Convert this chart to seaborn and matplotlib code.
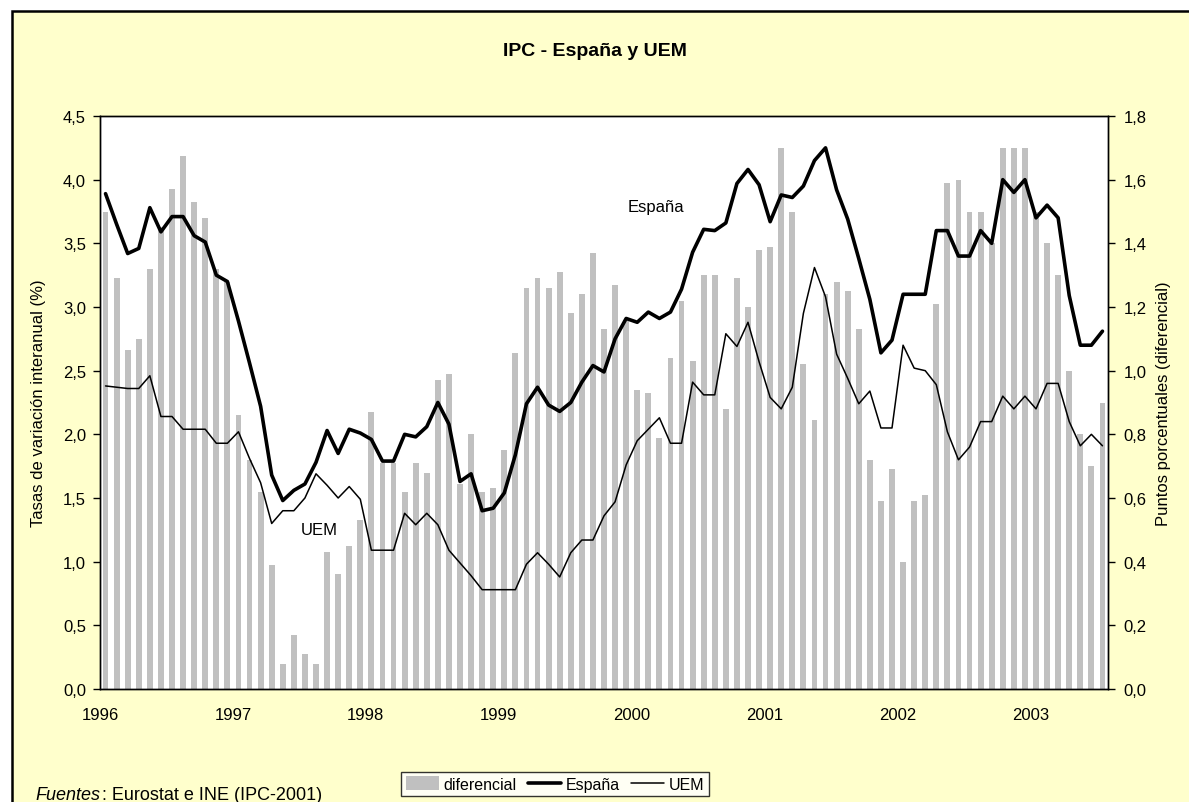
import numpy as np
import pandas as pd
import matplotlib
matplotlib.use('Agg')
import matplotlib.pyplot as plt
import seaborn as sns
from matplotlib.patches import Patch, Rectangle
from matplotlib.lines import Line2D
from matplotlib.ticker import FuncFormatter

# Datos mensuales ene-1996 .. jul-2003
years = ['1996', '1997', '1998', '1999', '2000', '2001', '2002', '2003']

espana = [3.89, 3.65, 3.42, 3.46, 3.78, 3.59, 3.71, 3.71, 3.56, 3.51, 3.25, 3.20,
          2.89, 2.56, 2.22, 1.68, 1.48, 1.56, 1.61, 1.78, 2.03, 1.85, 2.04, 2.01,
          1.96, 1.79, 1.79, 2.00, 1.98, 2.06, 2.25, 2.08, 1.63, 1.69, 1.40, 1.42,
          1.54, 1.84, 2.24, 2.37, 2.23, 2.18, 2.25, 2.41, 2.54, 2.49, 2.75, 2.91,
          2.88, 2.96, 2.91, 2.96, 3.14, 3.43, 3.61, 3.60, 3.66, 3.97, 4.08, 3.96,
          3.67, 3.88, 3.86, 3.95, 4.15, 4.25, 3.92, 3.69, 3.38, 3.06, 2.64, 2.74,
          3.10, 3.10, 3.10, 3.60, 3.60, 3.40, 3.40, 3.60, 3.50, 4.00, 3.90, 4.00,
          3.70, 3.80, 3.70, 3.09, 2.70, 2.70, 2.81]

uem = [2.38, 2.37, 2.36, 2.36, 2.46, 2.14, 2.14, 2.04, 2.04, 2.04, 1.93, 1.93,
       2.02, 1.81, 1.62, 1.30, 1.40, 1.40, 1.50, 1.69, 1.60, 1.50, 1.59, 1.49,
       1.09, 1.09, 1.09, 1.38, 1.29, 1.38, 1.29, 1.09, 0.99, 0.89, 0.78, 0.78,
       0.78, 0.78, 0.98, 1.07, 0.98, 0.88, 1.07, 1.17, 1.17, 1.36, 1.47, 1.76,
       1.95, 2.04, 2.13, 1.93, 1.93, 2.41, 2.31, 2.31, 2.79, 2.69, 2.88, 2.57,
       2.29, 2.20, 2.37, 2.95, 3.31, 3.08, 2.63, 2.44, 2.24, 2.34, 2.05, 2.05,
       2.70, 2.52, 2.50, 2.39, 2.02, 1.80, 1.90, 2.10, 2.10, 2.30, 2.20, 2.30,
       2.20, 2.40, 2.40, 2.10, 1.91, 2.00, 1.91]

diferencial = [1.50, 1.29, 1.065, 1.10, 1.32, 1.45, 1.57, 1.675, 1.53, 1.48, 1.32, 1.28,
               0.86, 0.72, 0.62, 0.39, 0.08, 0.17, 0.11, 0.08, 0.43, 0.36, 0.45, 0.53,
               0.87, 0.71, 0.71, 0.62, 0.71, 0.68, 0.97, 0.99, 0.645, 0.80, 0.62, 0.63,
               0.75, 1.055, 1.26, 1.29, 1.26, 1.31, 1.18, 1.24, 1.37, 1.13, 1.27, 1.16,
               0.94, 0.93, 0.79, 1.04, 1.22, 1.03, 1.30, 1.30, 0.88, 1.29, 1.20, 1.38,
               1.39, 1.70, 1.50, 1.02, 0.845, 1.24, 1.28, 1.25, 1.13, 0.72, 0.59, 0.69,
               0.40, 0.59, 0.61, 1.21, 1.59, 1.60, 1.50, 1.50, 1.40, 1.70, 1.70, 1.70,
               1.50, 1.40, 1.30, 1.00, 0.80, 0.70, 0.90]

df = pd.DataFrame({'mes': np.arange(len(espana)), 'España': espana,
                   'UEM': uem, 'diferencial': diferencial})

sns.set_style('white')
plt.rcParams['font.family'] = ['Liberation Sans', 'DejaVu Sans']
for k in ('text.color', 'axes.labelcolor', 'xtick.color', 'ytick.color'):
    plt.rcParams[k] = 'black'

W, H = 1189, 803
fig = plt.figure(figsize=(W / 100, H / 100), dpi=100)
fig.patch.set_facecolor('white')
# fondo amarillo del grafico con borde a la izquierda y arriba (recortado a la derecha/abajo)
fig.patches.append(Rectangle((12 / W, -0.05), 1.1, 1 - 12 / H + 0.05, transform=fig.transFigure,
                             facecolor='#FFFFCC', edgecolor='black', linewidth=1.8, zorder=-10))

# eje de barras (derecha) debajo, eje de lineas (izquierda) encima
ax_bar = fig.add_axes([100 / W, 1 - 690 / H, 1008 / W, 573 / H])
ax_bar.set_facecolor('white')
sns.barplot(data=df, x='mes', y='diferencial', ax=ax_bar, color='#C0C0C0',
            saturation=1, width=0.53, linewidth=0)
ax_line = ax_bar.twinx()
sns.lineplot(data=df, x='mes', y='España', ax=ax_line, color='black', linewidth=2.6)
sns.lineplot(data=df, x='mes', y='UEM', ax=ax_line, color='black', linewidth=1.1)

ax_bar.yaxis.tick_right()
ax_bar.yaxis.set_label_position('right')
ax_line.yaxis.tick_left()
ax_line.yaxis.set_label_position('left')

n = len(espana)
for a in (ax_bar, ax_line):
    a.set_xlim(-0.5, n - 0.5)
    for s in a.spines.values():
        s.set_color('black')
        s.set_linewidth(1.0)

ax_line.set_ylim(0, 4.5)
ax_line.set_yticks(np.arange(0, 4.51, 0.5))
ax_bar.set_ylim(0, 1.8)
ax_bar.set_yticks(np.arange(0, 1.81, 0.2))
comma = FuncFormatter(lambda v, _: f'{v:.1f}'.replace('.', ','))
ax_line.yaxis.set_major_formatter(comma)
ax_bar.yaxis.set_major_formatter(comma)

ax_bar.set_xticks([-0.5 + 12 * k for k in range(len(years))])
ax_bar.set_xticklabels(years, fontsize=12)
ax_line.set_xlabel('')
ax_bar.set_xlabel('')

ax_bar.tick_params(axis='x', direction='out', length=6, width=1, color='black', pad=7)
ax_bar.tick_params(axis='y', direction='out', length=5, width=1, color='black', pad=6,
                   labelsize=12, right=True, left=False, labelright=True, labelleft=False)
ax_line.tick_params(axis='y', direction='out', length=5, width=1, color='black', pad=5,
                    labelsize=12, left=True, right=False, labelleft=True, labelright=False)

ax_line.set_ylabel('Tasas de variación interanual (%)', fontsize=12)
ax_bar.set_ylabel('Puntos porcentuales (diferencial)', fontsize=12)
ax_line.yaxis.set_label_coords(-0.0535, 0.5)
ax_bar.yaxis.set_label_coords(1.0476, 0.5)

ax_line.text(49.7, 3.79, 'España', fontsize=12, ha='center', va='center')
ax_line.text(19.3, 1.25, 'UEM', fontsize=12, ha='center', va='center')

fig.text(0.5, 1 - 52 / H, 'IPC - España y UEM', fontsize=14, fontweight='bold',
         ha='center', va='center')

# nota de fuentes: "Fuentes" en cursiva seguido del resto
t1 = fig.text(35 / W, 1 - 800 / H, 'Fuentes', fontsize=13, style='italic',
              ha='left', va='baseline')
fig.canvas.draw()
bb = t1.get_window_extent(fig.canvas.get_renderer())
fig.text(bb.x1 / W + 0.002, 1 - 800 / H, ': Eurostat e INE (IPC-2001)', fontsize=13,
         ha='left', va='baseline')

handles = [Patch(facecolor='#C0C0C0', edgecolor='none', label='diferencial'),
           Line2D([], [], color='black', linewidth=2.6, label='España'),
           Line2D([], [], color='black', linewidth=1.1, label='UEM')]
leg = fig.legend(handles=handles, loc='center', bbox_to_anchor=(555 / W, 1 - 785 / H), ncol=3,
                 fontsize=11.5, frameon=True, fancybox=False, handlelength=2.05,
                 handleheight=0.9, handletextpad=0.3, columnspacing=0.7, borderpad=0.3)
leg.get_frame().set_edgecolor('black')
leg.get_frame().set_linewidth(1.0)
leg.get_frame().set_facecolor('white')

fig.savefig('out.png', dpi=100, facecolor=fig.get_facecolor())
